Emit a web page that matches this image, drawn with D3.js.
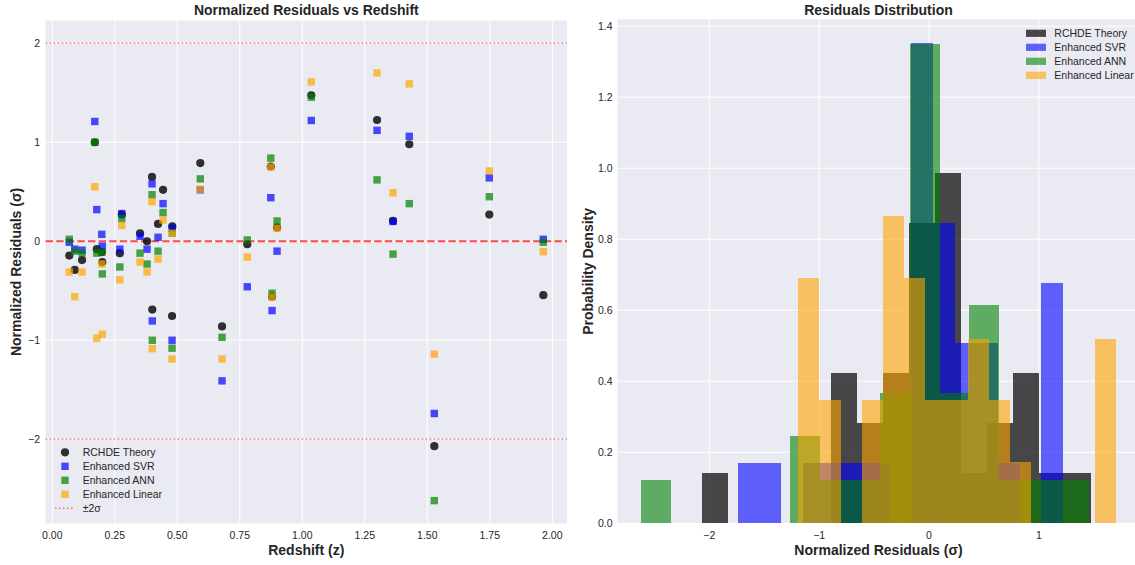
<!DOCTYPE html>
<html><head><meta charset="utf-8">
<script src="https://cdn.jsdelivr.net/npm/d3@7"></script>
<style>
body{margin:0;background:#fff;overflow:hidden;}
text{font-family:"Liberation Sans",Arial,sans-serif;fill:#262626;}
</style></head><body>
<svg id="chart" width="1135" height="565"></svg>
<script>
// ---- data ----
const redshift = [0.068,0.090,0.119,0.170,0.178,0.198,0.200,0.278,0.270,0.351,0.379,0.399,0.400,0.443,0.423,0.479,0.480,0.592,0.874,0.899,0.780,0.879,0.679,1.036,1.299,1.428,1.363,1.748,1.964,1.528];
const rchde  = [-0.145,-0.29,-0.19,1.0,-0.08,-0.11,-0.21,0.27,-0.12,0.08,0.0,0.65,-0.69,0.52,0.175,-0.755,0.15,0.79,0.755,0.14,-0.03,-0.56,-0.86,1.475,1.225,0.98,0.205,0.27,-0.545,-2.07];
const svr    = [-0.01,-0.08,-0.09,1.21,0.32,0.07,-0.05,0.28,-0.08,0.05,-0.08,0.58,-0.805,0.38,0.04,-1.0,0.13,0.52,0.44,-0.10,-0.46,-0.70,-1.41,1.22,1.12,1.06,0.20,0.64,0.02,-1.74];
const ann    = [0.02,-0.10,-0.12,1.0,-0.12,-0.11,-0.33,0.23,-0.26,-0.12,-0.23,0.47,-1.0,0.29,-0.10,-1.08,0.08,0.63,0.84,0.205,0.013,-0.525,-0.97,1.455,0.62,0.38,-0.13,0.45,-0.01,-2.62];
const linear = [-0.31,-0.56,-0.31,0.55,-0.98,-0.23,-0.94,0.16,-0.39,-0.21,-0.31,0.40,-1.085,0.215,-0.18,-1.19,0.08,0.525,0.75,0.13,-0.16,-0.565,-1.19,1.61,1.70,1.59,0.49,0.71,-0.105,-1.14];
const seriesNames = ["RCHDE Theory","Enhanced SVR","Enhanced ANN","Enhanced Linear"];
const seriesColors = ["#000000","#0000ff","#008000","#ffa500"];
const xTicksLeft = [0,0.25,0.5,0.75,1.0,1.25,1.5,1.75,2.0];
const yTicksLeft = [-2,-1,0,1,2];
const xTicksRight = [-2,-1,0,1];
const yTicksRight = [0,0.2,0.4,0.6,0.8,1.0,1.2,1.4];
const sigmaLines = [-2,2];
const nBins = 15;

const allSeries = [rchde, svr, ann, linear];
const svg = d3.select("#chart");
const BG = "#eaeaf2";

function pad(lo, hi){ const r = hi-lo; return [lo-0.05*r, hi+0.05*r]; }

// ---------------- Left: scatter ----------------
const L = {left:45.6, right:567, top:20.4, bottom:523.5};
const xL = d3.scaleLinear().domain(pad(d3.min(redshift), d3.max(redshift))).range([L.left, L.right]);
const allRes = allSeries.flat();
const yL = d3.scaleLinear().domain(pad(Math.min(d3.min(allRes), -2), Math.max(d3.max(allRes), 2))).range([L.bottom, L.top]);

const gL = svg.append("g");
gL.append("rect").attr("x",L.left).attr("y",L.top).attr("width",L.right-L.left).attr("height",L.bottom-L.top).attr("fill",BG);
gL.selectAll(".gx").data(xTicksLeft).enter().append("line")
  .attr("x1",d=>xL(d)).attr("x2",d=>xL(d)).attr("y1",L.top).attr("y2",L.bottom)
  .attr("stroke","#fff").attr("stroke-width",1);
gL.selectAll(".gy").data(yTicksLeft).enter().append("line")
  .attr("y1",d=>yL(d)).attr("y2",d=>yL(d)).attr("x1",L.left).attr("x2",L.right)
  .attr("stroke","#fff").attr("stroke-width",1);
const fmtMinus = s => s.replace("-","\u2212");
gL.selectAll(".tx").data(xTicksLeft).enter().append("text")
  .attr("x",d=>xL(d)).attr("y",539).attr("text-anchor","middle").attr("font-size","10.5px")
  .text(d=>d3.format(".2f")(d));
gL.selectAll(".ty").data(yTicksLeft).enter().append("text")
  .attr("x",40).attr("y",d=>yL(d)+3.8).attr("text-anchor","end").attr("font-size","10.5px")
  .text(d=>fmtMinus(String(d)));

// reference lines
gL.append("line").attr("x1",L.left).attr("x2",L.right).attr("y1",yL(0)).attr("y2",yL(0))
  .attr("stroke","#ff0000").attr("stroke-opacity",0.7).attr("stroke-width",2).attr("stroke-dasharray","7.4,3.2");
gL.selectAll(".sig").data(sigmaLines).enter().append("line")
  .attr("x1",L.left).attr("x2",L.right).attr("y1",d=>yL(d)).attr("y2",d=>yL(d))
  .attr("stroke","#ff0000").attr("stroke-opacity",0.5).attr("stroke-width",1.6).attr("stroke-dasharray","1.6,2.4");

// points
const sq = 7.4, rad = 4.1;
gL.append("g").selectAll("circle").data(rchde).enter().append("circle")
  .attr("cx",(d,i)=>xL(redshift[i])).attr("cy",d=>yL(d)).attr("r",rad)
  .attr("fill","#000").attr("fill-opacity",0.8);
[svr, ann, linear].forEach((s,k)=>{
  gL.append("g").selectAll("rect").data(s).enter().append("rect")
    .attr("x",(d,i)=>xL(redshift[i])-sq/2).attr("y",d=>yL(d)-sq/2).attr("width",sq).attr("height",sq)
    .attr("fill",seriesColors[k+1]).attr("fill-opacity",0.7);
});

// legend
const legL = gL.append("g");
const lx = 65, ly0 = 452.3, lstep = 14;
seriesNames.forEach((n,i)=>{
  const y = ly0 + i*lstep;
  if(i===0) legL.append("circle").attr("cx",lx).attr("cy",y).attr("r",rad).attr("fill","#000").attr("fill-opacity",0.8);
  else legL.append("rect").attr("x",lx-sq/2).attr("y",y-sq/2).attr("width",sq).attr("height",sq).attr("fill",seriesColors[i]).attr("fill-opacity",0.7);
  legL.append("text").attr("x",82.7).attr("y",y+3.7).attr("font-size","10.5px").text(n);
});
{
  const y = ly0 + 4*lstep;
  legL.append("line").attr("x1",55).attr("x2",75).attr("y1",y).attr("y2",y)
    .attr("stroke","#ff0000").attr("stroke-opacity",0.5).attr("stroke-width",1.6).attr("stroke-dasharray","1.6,2.4");
  legL.append("text").attr("x",82.7).attr("y",y+3.7).attr("font-size","10.5px").text("\u00b12\u03c3");
}

gL.append("text").attr("x",(L.left+L.right)/2).attr("y",15).attr("text-anchor","middle")
  .attr("font-size","14px").attr("font-weight","bold").text("Normalized Residuals vs Redshift");
gL.append("text").attr("x",(L.left+L.right)/2).attr("y",554.5).attr("text-anchor","middle")
  .attr("font-size","14px").attr("font-weight","bold").text("Redshift (z)");
gL.append("text").attr("transform",`translate(21,${(L.top+L.bottom)/2}) rotate(-90)`).attr("text-anchor","middle")
  .attr("font-size","14px").attr("font-weight","bold").text("Normalized Residuals (\u03c3)");

// ---------------- Right: histograms ----------------
function histogram(vals){
  const lo = d3.min(vals), hi = d3.max(vals), w = (hi-lo)/nBins;
  const counts = new Array(nBins).fill(0);
  vals.forEach(v=>{ let k = Math.floor((v-lo)/w); if(k>=nBins) k=nBins-1; if(k<0) k=0; counts[k]++; });
  return counts.map((c,k)=>({x0:lo+k*w, x1:lo+(k+1)*w, density:c/(vals.length*w)}));
}
const hists = allSeries.map(histogram);
const R = {left:617.5, right:1139.5, top:19.5, bottom:523.3};
const hx0 = d3.min(hists.flat(), d=>d.x0), hx1 = d3.max(hists.flat(), d=>d.x1);
const xR = d3.scaleLinear().domain(pad(hx0,hx1)).range([R.left,R.right]);
const yR = d3.scaleLinear().domain([0, d3.max(hists.flat(), d=>d.density)*1.05]).range([R.bottom,R.top]);

const gR = svg.append("g");
gR.append("rect").attr("x",R.left).attr("y",R.top).attr("width",R.right-R.left).attr("height",R.bottom-R.top).attr("fill",BG);
gR.selectAll(".gx").data(xTicksRight).enter().append("line")
  .attr("x1",d=>xR(d)).attr("x2",d=>xR(d)).attr("y1",R.top).attr("y2",R.bottom).attr("stroke","#fff").attr("stroke-width",1);
gR.selectAll(".gy").data(yTicksRight).enter().append("line")
  .attr("y1",d=>yR(d)).attr("y2",d=>yR(d)).attr("x1",R.left).attr("x2",R.right).attr("stroke","#fff").attr("stroke-width",1);
gR.selectAll(".tx").data(xTicksRight).enter().append("text")
  .attr("x",d=>xR(d)).attr("y",539).attr("text-anchor","middle").attr("font-size","10.5px")
  .text(d=>fmtMinus(String(d)));
gR.selectAll(".ty").data(yTicksRight).enter().append("text")
  .attr("x",612.5).attr("y",d=>yR(d)+3.8).attr("text-anchor","end").attr("font-size","10.5px")
  .text(d=>d3.format(".1f")(d));

const histAlpha = [0.7,0.6,0.6,0.6];
hists.forEach((h,k)=>{
  gR.append("g").selectAll("rect").data(h.filter(b=>b.density>0)).enter().append("rect")
    .attr("x",b=>xR(b.x0)).attr("width",b=>xR(b.x1)-xR(b.x0))
    .attr("y",b=>yR(b.density)).attr("height",b=>yR(0)-yR(b.density))
    .attr("shape-rendering","crispEdges")
    .attr("fill",seriesColors[k]).attr("fill-opacity",histAlpha[k]);
});

const legR = gR.append("g");
seriesNames.forEach((n,i)=>{
  const y = 33.3 + i*14;
  legR.append("rect").attr("x",1026).attr("y",y-3.6).attr("width",20).attr("height",7.2)
    .attr("fill",seriesColors[i]).attr("fill-opacity",histAlpha[i]);
  legR.append("text").attr("x",1054.3).attr("y",y+3.7).attr("font-size","10.5px").text(n);
});

gR.append("text").attr("x",(R.left+R.right)/2).attr("y",15).attr("text-anchor","middle")
  .attr("font-size","14px").attr("font-weight","bold").text("Residuals Distribution");
gR.append("text").attr("x",(R.left+R.right)/2).attr("y",554.5).attr("text-anchor","middle")
  .attr("font-size","14px").attr("font-weight","bold").text("Normalized Residuals (\u03c3)");
gR.append("text").attr("transform",`translate(593,${(R.top+R.bottom)/2}) rotate(-90)`).attr("text-anchor","middle")
  .attr("font-size","14px").attr("font-weight","bold").text("Probability Density");
</script>
</body></html>
